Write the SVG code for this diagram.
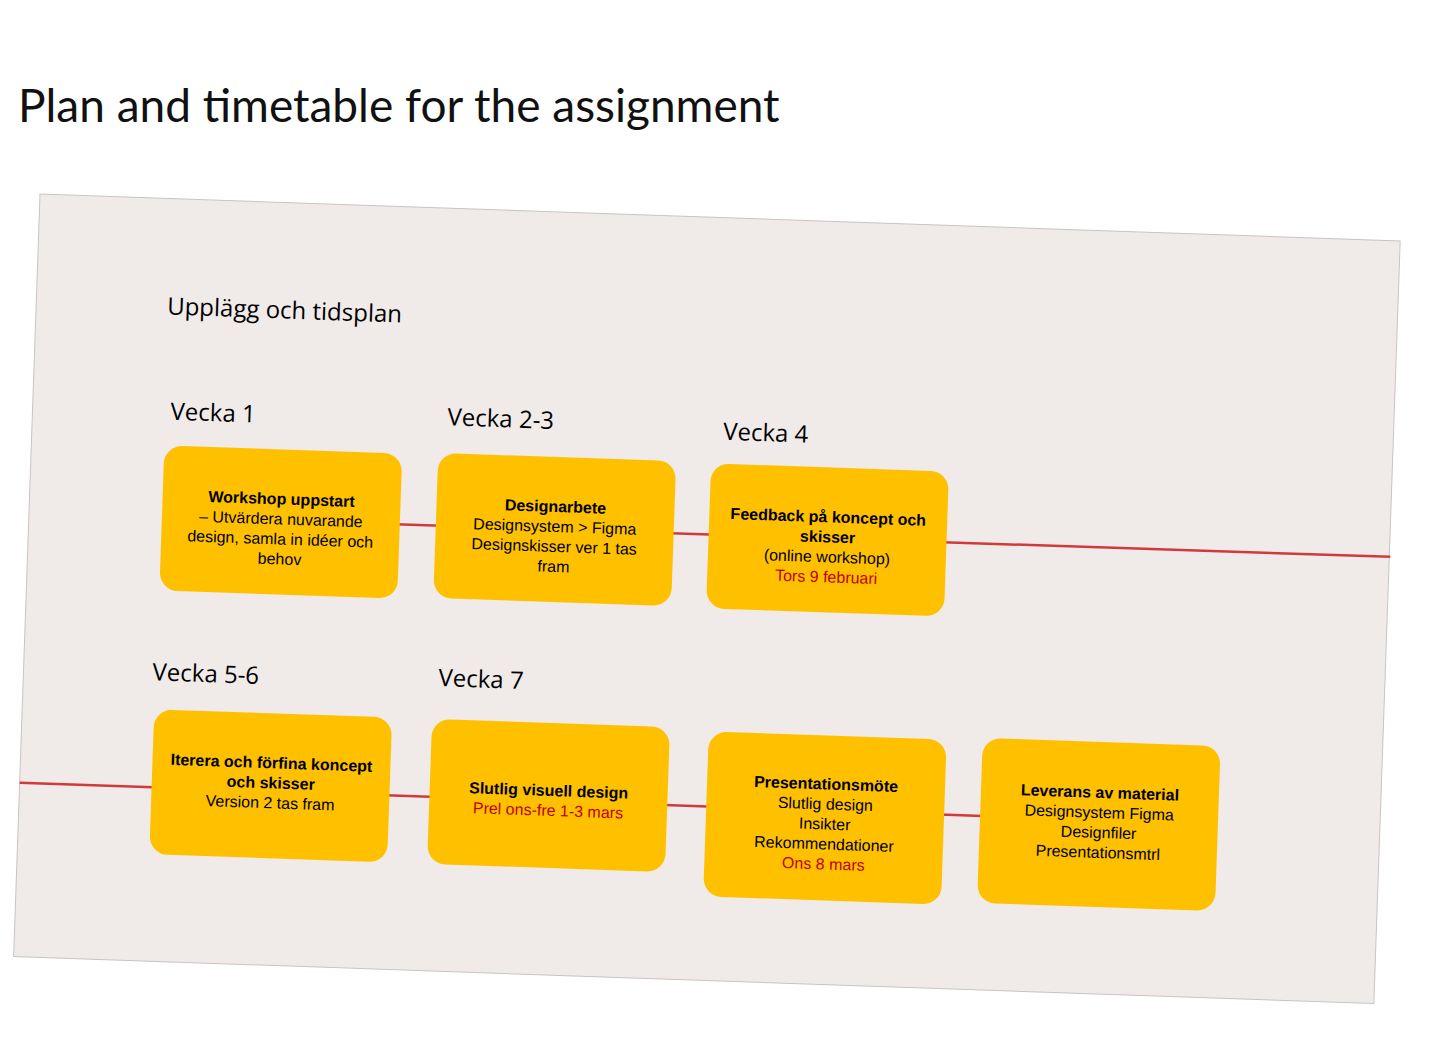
<svg xmlns="http://www.w3.org/2000/svg" width="1442" height="1059" viewBox="0 0 1442 1059">
<style>
.box{fill:#ffc000}
.t{font-family:"Liberation Sans",Arial,sans-serif;font-size:16px;fill:#000;text-anchor:middle}
.b{font-weight:bold}
.r{fill:#c00000}
.wk{font-family:"Open Sans","Liberation Sans",sans-serif;font-size:24px;fill:#000}
.ln{stroke:#d03a3a;stroke-width:2.5;fill:none}
</style>
<rect width="1442" height="1059" fill="#fff"/>
<text x="18" y="122" font-family="Lato,'Noto Sans',sans-serif" font-size="46" fill="#111">Plan and timetable for the assignment</text>
<g transform="translate(40,194) rotate(1.98)">
<rect x="0" y="0" width="1361" height="763" fill="#f0ebe9" stroke="#c8c4c2" stroke-width="1"/>
<text x="131" y="116" class="wk" font-size="26">Upplägg och tidsplan</text>
<g id="connectors">
<line class="ln" x1="252" y1="318" x2="1362" y2="316"/>
<line class="ln" x1="0" y1="589" x2="1080" y2="589"/>
</g>
<text class="wk" x="138" y="221">Vecka 1</text>
<text class="wk" x="415" y="217">Vecka 2-3</text>
<text class="wk" x="691" y="222">Vecka 4</text>
<text class="wk" x="129" y="482">Vecka 5-6</text>
<text class="wk" x="415" y="478">Vecka 7</text>
<g id="n1"><rect class="box" x="133" y="247" width="238" height="145" rx="18"/>
<text class="t" x="252" y="302"><tspan class="b">Workshop uppstart</tspan><tspan x="252" dy="20">– Utvärdera nuvarande</tspan><tspan x="252" dy="20">design, samla in idéer och</tspan><tspan x="252" dy="20">behov</tspan></text></g>
<g id="n2"><rect class="box" x="407" y="245" width="238" height="145" rx="18"/>
<text class="t" x="526" y="300"><tspan class="b">Designarbete</tspan><tspan x="526" dy="20">Designsystem &gt; Figma</tspan><tspan x="526" dy="20">Designskisser ver 1 tas</tspan><tspan x="526" dy="20">fram</tspan></text></g>
<g id="n3"><rect class="box" x="680" y="246" width="238" height="145" rx="18"/>
<text class="t" x="799" y="301"><tspan class="b">Feedback på koncept och</tspan><tspan class="b" x="799" dy="20">skisser</tspan><tspan x="799" dy="20">(online workshop)</tspan><tspan class="r" x="799" dy="20">Tors 9 februari</tspan></text></g>
<g id="n4"><rect class="box" x="132" y="511" width="238" height="145" rx="18"/>
<text class="t" x="251" y="566"><tspan class="b">Iterera och förfina koncept</tspan><tspan class="b" x="251" dy="20">och skisser</tspan><tspan x="251" dy="20">Version 2 tas fram</tspan></text></g>
<g id="n5"><rect class="box" x="410" y="511" width="238" height="145" rx="18"/>
<text class="t" x="529" y="584"><tspan class="b">Slutlig visuell design</tspan><tspan class="r" x="529" dy="20">Prel ons-fre 1-3 mars</tspan></text></g>
<g id="n6"><rect class="box" x="687" y="514" width="238" height="165" rx="18"/>
<text class="t" x="806" y="568"><tspan class="b">Presentationsmöte</tspan><tspan x="806" dy="20">Slutlig design</tspan><tspan x="806" dy="20">Insikter</tspan><tspan x="806" dy="20">Rekommendationer</tspan><tspan class="r" x="806" dy="20">Ons 8 mars</tspan></text></g>
<g id="n7"><rect class="box" x="961" y="511" width="238" height="165" rx="18"/>
<text class="t" x="1080" y="567"><tspan class="b">Leverans av material</tspan><tspan x="1080" dy="20">Designsystem Figma</tspan><tspan x="1080" dy="20">Designfiler</tspan><tspan x="1080" dy="20">Presentationsmtrl</tspan></text></g>
</g>
</svg>
